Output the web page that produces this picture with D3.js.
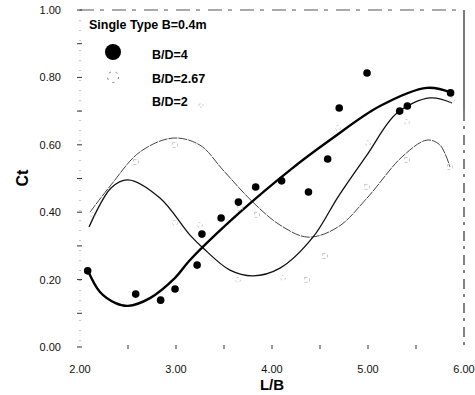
<!DOCTYPE html>
<html>
<head>
<meta charset="utf-8">
<script src="https://cdn.jsdelivr.net/npm/d3@7"></script>
<style>
    body { margin: 0; background: #fff; }
    svg { display: block; font-family: "Liberation Sans", Arial, sans-serif; }
</style>
</head>
<body>
<div id="chart"></div>
<script>
// measured points, B/D=4 (filled circles)
const lbFull = [2.08, 2.58, 2.84, 2.99, 3.22, 3.27, 3.47, 3.65, 3.83, 4.10, 4.38, 4.58, 4.70, 4.99, 5.33, 5.41, 5.86];
const ctFull = [0.226, 0.157, 0.139, 0.172, 0.243, 0.335, 0.383, 0.430, 0.475, 0.493, 0.46, 0.558, 0.709, 0.813, 0.700, 0.715, 0.754];

// B/D=2.67 (open circles, faint in print)
const lbOpen = [2.135, 2.99, 3.25, 3.646, 4.115, 4.687, 5.0, 5.406, 5.875];
const ctOpen = [0.392, 0.368, 0.362, 0.199, 0.205, 0.65, 0.605, 0.668, 0.733];

// B/D=2 (small squares, faint)
const lbSq = [2.583, 2.99, 3.667, 3.844, 4.365, 4.552, 4.99, 5.406, 5.854];
const ctSq = [0.549, 0.599, 0.412, 0.392, 0.199, 0.27, 0.475, 0.555, 0.534];

// fitted curves
const fitX4 = [2.083, 2.208, 2.365, 2.5, 2.729, 2.99, 3.146, 3.667, 4.1875, 4.604, 5.125, 5.615, 5.875];
const fitY4 = [0.226, 0.163, 0.131, 0.122, 0.145, 0.205, 0.258, 0.40, 0.525, 0.614, 0.715, 0.769, 0.754];

const fitX267 = [2.094, 2.323, 2.5, 2.833, 3.146, 3.281, 3.5625, 3.802, 4.083, 4.427, 4.687, 4.99, 5.302, 5.646, 5.875];
const fitY267 = [0.356, 0.472, 0.496, 0.442, 0.332, 0.294, 0.228, 0.211, 0.234, 0.326, 0.445, 0.570, 0.694, 0.739, 0.724];

const fitX2 = [2.104, 2.323, 2.625, 2.969, 3.25, 3.49, 3.80, 4.083, 4.375, 4.687, 4.99, 5.354, 5.615, 5.75, 5.854];
const fitY2 = [0.40, 0.481, 0.579, 0.620, 0.599, 0.525, 0.430, 0.362, 0.326, 0.356, 0.442, 0.564, 0.614, 0.599, 0.534];

const xTicks = [2, 3, 4, 5, 6];
const yTicks = [0, 0.2, 0.4, 0.6, 0.8, 1.0];
const legendLabels = ["B/D=4", "B/D=2.67", "B/D=2"];

const width = 475, height = 395;
const x = d3.scaleLinear().domain([2, 6]).range([80, 464]);
const y = d3.scaleLinear().domain([0, 1]).range([347, 10]);

const svg = d3.select("#chart").append("svg")
    .attr("width", width)
    .attr("height", height);

// frame: top dashed, right solid, left dotted (scanned look)
svg.append("line")
    .attr("x1", x(2)).attr("x2", x(6))
    .attr("y1", y(1)).attr("y2", y(1))
    .attr("stroke", "#555").attr("stroke-width", 1)
    .attr("stroke-dasharray", "14,6,4,8");
svg.append("line")
    .attr("x1", x(6)).attr("x2", x(6))
    .attr("y1", y(1)).attr("y2", y(0.7))
    .attr("stroke", "#222").attr("stroke-width", 1.2);
svg.append("line")
    .attr("x1", x(6)).attr("x2", x(6))
    .attr("y1", y(0.7)).attr("y2", y(0))
    .attr("stroke", "#333").attr("stroke-width", 1.2)
    .attr("stroke-dasharray", "10,5,3,6");
svg.append("line")
    .attr("x1", x(2)).attr("x2", x(2))
    .attr("y1", y(1)).attr("y2", y(0))
    .attr("stroke", "#888").attr("stroke-width", 1)
    .attr("stroke-dasharray", "1,9");

// y ticks, minor every 0.1
const yMinor = d3.range(0, 1.01, 0.1);
svg.append("g").selectAll("line")
    .data(yMinor)
    .enter().append("line")
    .attr("x1", x(2) - 3).attr("x2", x(2) + 2)
    .attr("y1", d => y(d)).attr("y2", d => y(d))
    .attr("stroke", "#333").attr("stroke-width", 1);

svg.append("g").selectAll("text")
    .data(yTicks)
    .enter().append("text")
    .attr("x", 61)
    .attr("y", d => y(d) + 4)
    .attr("text-anchor", "end")
    .attr("font-size", 11)
    .attr("fill", "#111")
    .text(d => d3.format(".2f")(d));

// x ticks: small marks on the bottom, no line
const xMinor = d3.range(2.5, 6, 0.5);
svg.append("g").selectAll("line")
    .data(xMinor)
    .enter().append("line")
    .attr("x1", d => x(d)).attr("x2", d => x(d))
    .attr("y1", y(0) - 2).attr("y2", y(0) + 2)
    .attr("stroke", "#333").attr("stroke-width", 1);

svg.append("g").selectAll("text")
    .data(xTicks)
    .enter().append("text")
    .attr("x", d => x(d))
    .attr("y", 373)
    .attr("text-anchor", "middle")
    .attr("font-size", 11)
    .attr("fill", "#111")
    .text(d => d3.format(".2f")(d));

svg.append("text")
    .attr("x", 272).attr("y", 390)
    .attr("text-anchor", "middle")
    .attr("font-size", 15).attr("font-weight", "bold")
    .text("L/B");

svg.append("text")
    .attr("transform", "translate(28,178) rotate(-90)")
    .attr("text-anchor", "middle")
    .attr("font-size", 16).attr("font-weight", "bold")
    .text("Ct");

// curves
const line = d3.line()
    .x(d => x(d[0]))
    .y(d => y(d[1]))
    .curve(d3.curveCatmullRom.alpha(0.5));

svg.append("path")
    .datum(d3.zip(fitX2, fitY2))
    .attr("d", line)
    .attr("fill", "none")
    .attr("stroke", "#444")
    .attr("stroke-width", 1)
    .attr("stroke-dasharray", "9,1");

svg.append("path")
    .datum(d3.zip(fitX267, fitY267))
    .attr("d", line)
    .attr("fill", "none")
    .attr("stroke", "#111")
    .attr("stroke-width", 1.3);

svg.append("path")
    .datum(d3.zip(fitX4, fitY4))
    .attr("d", line)
    .attr("fill", "none")
    .attr("stroke", "#000")
    .attr("stroke-width", 2.4);

// faint markers for the two lighter series
svg.append("g").selectAll("circle")
    .data(d3.zip(lbOpen, ctOpen))
    .enter().append("circle")
    .attr("cx", d => x(d[0]))
    .attr("cy", d => y(d[1]))
    .attr("r", 2.5)
    .attr("fill", "none")
    .attr("stroke", "#bbb")
    .attr("stroke-width", 0.8)
    .attr("stroke-dasharray", "2,3");

svg.append("g").selectAll("rect")
    .data(d3.zip(lbSq, ctSq))
    .enter().append("rect")
    .attr("x", d => x(d[0]) - 2.5)
    .attr("y", d => y(d[1]) - 2.5)
    .attr("width", 5).attr("height", 5)
    .attr("fill", "none")
    .attr("stroke", "#bbb")
    .attr("stroke-width", 0.8)
    .attr("stroke-dasharray", "3,3");

svg.append("g").selectAll("circle")
    .data(d3.zip(lbFull, ctFull))
    .enter().append("circle")
    .attr("cx", d => x(d[0]))
    .attr("cy", d => y(d[1]))
    .attr("r", 3.8)
    .attr("fill", "#000");

// legend
const legend = svg.append("g").attr("font-weight", "bold");
legend.append("text")
    .attr("x", 89).attr("y", 29)
    .attr("font-size", 12.5)
    .text("Single Type B=0.4m");

legend.selectAll("text.item")
    .data(legendLabels)
    .enter().append("text")
    .attr("class", "item")
    .attr("x", 152)
    .attr("y", (d, i) => 59 + i * 23.5)
    .attr("font-size", 12.5)
    .text(d => d);

legend.append("circle")
    .attr("cx", 113).attr("cy", 52).attr("r", 8)
    .attr("fill", "#000");
legend.append("circle")
    .attr("cx", 113).attr("cy", 77).attr("r", 5.5)
    .attr("fill", "none")
    .attr("stroke", "#777")
    .attr("stroke-width", 1)
    .attr("stroke-dasharray", "2,5");
legend.append("rect")
    .attr("x", 199).attr("y", 104).attr("width", 4).attr("height", 3)
    .attr("fill", "none")
    .attr("stroke", "#bbb")
    .attr("stroke-width", 0.7)
    .attr("stroke-dasharray", "2,2");
</script>
</body>
</html>
